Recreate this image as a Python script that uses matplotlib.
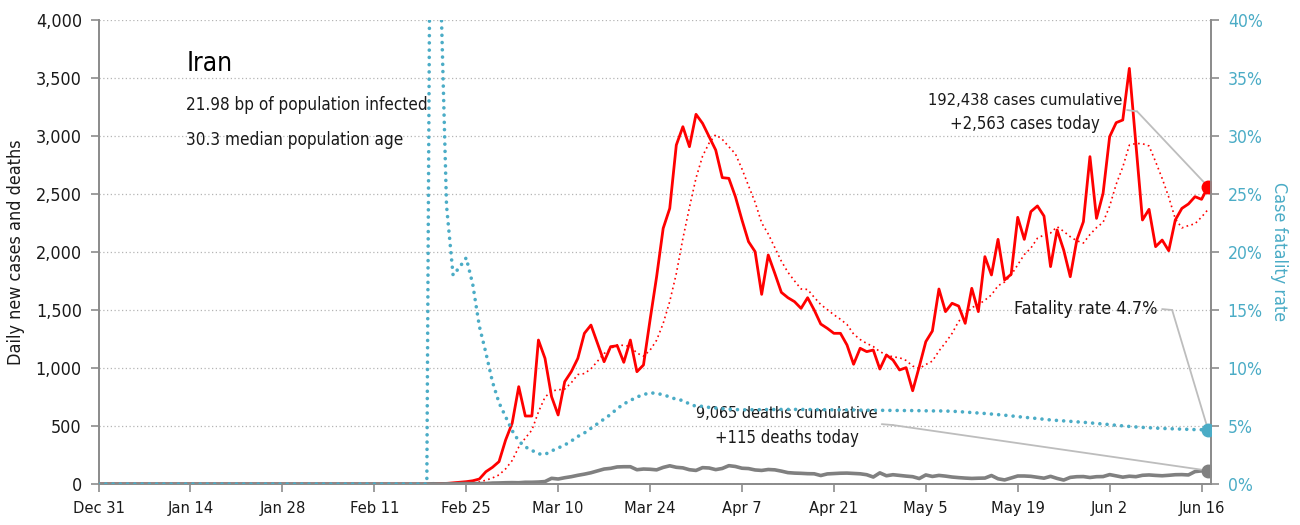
"""Iran: daily new cases, deaths and case fatality rate."""
import matplotlib
matplotlib.use("Agg")
import matplotlib.pyplot as plt
from matplotlib import font_manager
from matplotlib.ticker import FuncFormatter, MultipleLocator
import pandas as pd

# the original uses a narrow face; take the narrowest regular one there is
STRETCH_ORDER = {"ultra-condensed": 0, "extra-condensed": 1, "condensed": 2,
                 "semi-condensed": 3}
narrow = [f for f in font_manager.fontManager.ttflist
          if f.style == "normal" and f.weight in (400, "normal", "regular", "book")
          and (f.stretch in STRETCH_ORDER or "Condensed" in f.name
               or "Narrow" in f.name)]
narrow.sort(key=lambda f: STRETCH_ORDER.get(f.stretch, 2))
if narrow:
    plt.rcParams["font.family"] = [narrow[0].name, "DejaVu Sans"]
    plt.rcParams["font.stretch"] = narrow[0].stretch
else:
    plt.rcParams["font.family"] = ["Roboto", "DejaVu Sans"]

START = "2019-12-31"
END = "2020-06-17"
FIRST_DAY = "2020-02-19"  # values below start on this date, zero before

cases = [
    0, 2, 3, 5, 10, 15, 20, 28, 43, 106, 144, 193, 379, 524, 839, 586, 586,
    1241, 1083, 753, 595, 882, 968, 1083, 1299, 1370, 1213, 1054, 1184, 1192,
    1049, 1241, 968, 1026, 1414, 1787, 2204, 2376, 2922, 3080, 2908, 3187,
    3109, 2994, 2879, 2641, 2635, 2477, 2276, 2089, 2003, 1635, 1974, 1816,
    1652, 1606, 1572, 1514, 1606, 1500, 1379, 1342, 1299, 1299, 1198, 1032,
    1170, 1141, 1155, 991, 1112, 1069, 983, 1003, 804, 1011, 1227, 1319, 1681,
    1486, 1558, 1534, 1385, 1687, 1486, 1960, 1802, 2109, 1759, 1808, 2299,
    2109, 2348, 2397, 2310, 1874, 2190, 2017, 1787, 2103, 2261, 2822, 2290,
    2506, 2994, 3115, 3138, 3583, 2924, 2276, 2368, 2046, 2103, 2011, 2276,
    2376, 2414, 2477, 2454, 2563,
]

deaths = [
    0, 2, 0, 2, 1, 3, 4, 3, 4, 4, 8, 9, 11, 12, 11, 15, 15, 17, 21, 49, 43,
    54, 63, 75, 85, 97, 113, 129, 135, 147, 149, 149, 123, 129, 127, 122, 143,
    157, 144, 139, 123, 117, 141, 138, 124, 134, 158, 151, 136, 133, 121, 117,
    125, 122, 111, 98, 94, 92, 89, 88, 73, 87, 90, 93, 94, 91, 88, 80, 60, 96,
    71, 80, 74, 68, 63, 47, 78, 65, 74, 68, 60, 55, 51, 48, 50, 51, 73, 45, 35,
    52, 69, 69, 66, 58, 50, 66, 48, 34, 57, 63, 64, 56, 63, 64, 81, 70, 59, 67,
    63, 75, 78, 74, 71, 75, 80, 81, 78, 107, 113, 115,
]

# case fatality rate, % (cumulative deaths / cumulative cases)
fatality = [
    0, 100, 45, 24, 18.0, 18.7, 19.5, 17.2, 13.6, 11.3, 8.8, 7.0, 5.8, 4.6,
    3.7, 3.2, 2.9, 2.6, 2.55, 2.85, 3.1, 3.36, 3.7, 4.1, 4.4, 4.8, 5.2, 5.6,
    6.0, 6.5, 6.9, 7.2, 7.5, 7.7, 7.87, 7.8, 7.7, 7.5, 7.3, 7.2, 6.9, 6.7,
    6.7, 6.6, 6.55, 6.5, 6.45, 6.42, 6.4, 6.4, 6.4, 6.41, 6.42, 6.42, 6.43,
    6.43, 6.43, 6.43, 6.42, 6.42, 6.41, 6.40, 6.40, 6.39, 6.38, 6.38, 6.37,
    6.36, 6.36, 6.35, 6.35, 6.34, 6.34, 6.33, 6.33, 6.32, 6.31, 6.30, 6.30,
    6.29, 6.27, 6.24, 6.20, 6.16, 6.12, 6.08, 6.03, 5.98, 5.93, 5.87, 5.81,
    5.75, 5.70, 5.64, 5.58, 5.52, 5.48, 5.44, 5.40, 5.36, 5.32, 5.27, 5.22,
    5.17, 5.12, 5.06, 5.01, 4.96, 4.92, 4.88, 4.85, 4.82, 4.79, 4.77, 4.75,
    4.73, 4.71, 4.69, 4.68, 4.66,
]

RED = "#ff0000"
BLUE = "#4bacc6"
GREY = "#808080"
AXIS = "#8c8c8c"
TEXT = "#1a1a1a"

dates = pd.date_range(START, END, freq="D")
lead = [0] * (len(pd.date_range(START, FIRST_DAY)) - 1)
cases_s = pd.Series(lead + cases, index=dates)
deaths_s = pd.Series(lead + deaths, index=dates)
fatal_s = pd.Series(lead + fatality, index=dates)
cases_avg = cases_s.rolling(7, min_periods=1).mean()

fig = plt.figure(figsize=(13, 5.25), dpi=100)
ax = fig.add_axes([0.0758, 0.0781, 0.8558, 0.8838])
ax2 = ax.twinx()

ax.yaxis.grid(True, color="#b5b5b5", linestyle=(0, (1, 2)), linewidth=0.9)
ax.set_axisbelow(True)

ax.plot(dates, cases_s, color=RED, lw=2.0, zorder=3)
ax.plot(dates, cases_avg, color=RED, lw=1.2, ls=(0, (1, 2)), zorder=3)
ax.plot(dates, deaths_s, color=GREY, lw=2.6, zorder=3)
ax2.plot(dates, fatal_s, color=BLUE, lw=2.6, ls=(0, (0.01, 2.0)),
         dash_capstyle="round", zorder=3)

ax.plot(dates[-1], cases_s.iloc[-1], "o", color=RED, ms=9, zorder=5)
ax.plot(dates[-1], deaths_s.iloc[-1], "o", color=GREY, ms=9, zorder=5)
ax2.plot(dates[-1], fatal_s.iloc[-1], "o", color=BLUE, ms=9, zorder=5)

x_end = dates[0] + pd.Timedelta(days=169.45)
ax.set_xlim(dates[0], x_end)
ax.set_ylim(0, 4000)
ax2.set_ylim(0, 40)

ticks = pd.date_range(START, END, freq="14D")
ax.set_xticks(ticks)
ax.set_xticklabels([f"{d:%b} {d.day}" for d in ticks])
ax.yaxis.set_major_locator(MultipleLocator(500))
ax.yaxis.set_major_formatter(FuncFormatter(lambda v, p: f"{v:,.0f}"))
ax2.yaxis.set_major_locator(MultipleLocator(5))
ax2.yaxis.set_major_formatter(FuncFormatter(lambda v, p: f"{v:.0f}%"))

for a in (ax, ax2):
    a.spines["top"].set_visible(False)
    for side in ("left", "right", "bottom"):
        a.spines[side].set_color(AXIS)
        a.spines[side].set_linewidth(1.3)
    a.tick_params(length=6, width=1.2, color=AXIS, labelsize=14)
ax.tick_params(axis="y", labelcolor=TEXT, pad=6)
ax.tick_params(axis="x", labelcolor=TEXT, pad=6)
ax2.tick_params(axis="y", labelcolor=BLUE, pad=6)

ylab = ax.set_ylabel("Daily new cases and deaths", fontsize=14, color=TEXT,
                     labelpad=8)
ylab2 = ax2.set_ylabel("Case fatality rate", fontsize=16, color=BLUE,
                       rotation=270, labelpad=18)

tr = ax.transAxes
plain = dict(color=TEXT, va="center", transform=tr, zorder=6)
centred = dict(plain, ha="center")
texts = [
    (ax.text(0.0795, 0.905, "Iran", color="black", va="center", transform=tr), 46),
    (ax.text(0.0785, 0.817, "21.98 bp of population infected", **plain), 242),
    (ax.text(0.0785, 0.741, "30.3 median population age", **plain), 218),
    (ax.text(0.833, 0.827, "192,438 cases cumulative", **centred), 194),
    (ax.text(0.833, 0.775, "+2,563 cases today", **centred), 150),
    (ax.text(0.887, 0.377, "Fatality rate 4.7%", **centred), 144),
    (ax.text(0.619, 0.153, "9,065 deaths cumulative", **centred), 182),
    (ax.text(0.619, 0.099, "+115 deaths today", **centred), 144),
]

lead_style = dict(arrowstyle="-", color="#bdbdbd", lw=1.3, shrinkA=0, shrinkB=0)
leaders = [
    (ax, (0.9245, 0.806), (0.9335, 0.803), (dates[-1], cases_s.iloc[-1])),
    (ax2, (0.956, 0.377), (0.965, 0.375), (dates[-1], fatal_s.iloc[-1])),
    (ax, (0.704, 0.129), (0.714, 0.127), (dates[-1], deaths_s.iloc[-1])),
]
for a, p0, p1, target in leaders:
    a.annotate("", xy=p1, xytext=p0, xycoords="axes fraction",
               textcoords="axes fraction", arrowprops=lead_style)
    a.annotate("", xy=target, xytext=p1, xycoords="data",
               textcoords="axes fraction", arrowprops=lead_style)

# size the type so that each line is about as wide as in the original
fig.canvas.draw()
renderer = fig.canvas.get_renderer()


def width_of(t):
    return t.get_window_extent(renderer).width


for t, px in texts:
    t.set_fontsize(t.get_fontsize() * px / width_of(t))
ylab.set_fontsize(ylab.get_fontsize() * 226 / ylab.get_window_extent(renderer).height)
ylab2.set_fontsize(ylab2.get_fontsize() * 140 / ylab2.get_window_extent(renderer).height)


def label_ratio(labels, text, px):
    for lab in labels:
        if lab.get_text() == text:
            return px / width_of(lab)
    return 1.0


ax.tick_params(axis="y", labelsize=14 * label_ratio(ax.get_yticklabels(), "4,000", 46))
ax.tick_params(axis="x", labelsize=14 * label_ratio(ax.get_xticklabels(), "Dec 31", 52))
ax2.tick_params(axis="y", labelsize=14 * label_ratio(ax2.get_yticklabels(), "40%", 35))

fig.savefig("out.png", dpi=100)
